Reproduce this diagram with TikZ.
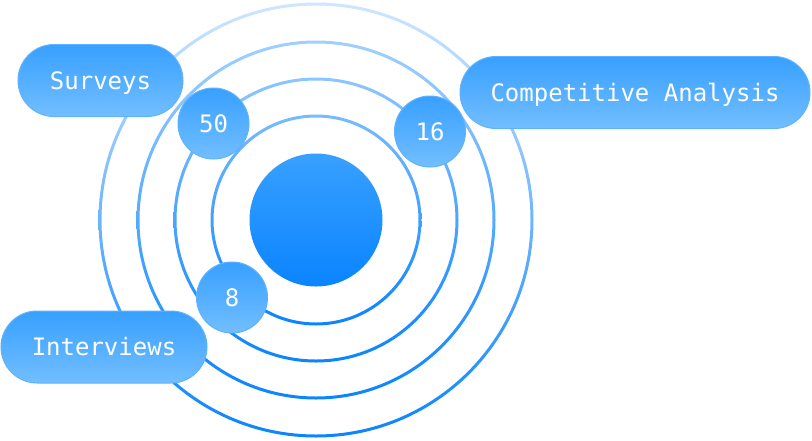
\documentclass[tikz,border=0pt]{standalone}
\usepackage{fontspec}
\setmonofont{DejaVu Sans Mono}
\begin{document}
\begin{tikzpicture}[x=1pt,y=-1pt]
\definecolor{D}{RGB}{10,132,255}
\definecolor{ptop}{RGB}{56,160,255}
\definecolor{pbot}{RGB}{114,190,255}
\definecolor{pedge}{RGB}{96,178,255}
\definecolor{rta}{HTML}{CFE6FF}\definecolor{rma}{HTML}{5EB0FF}
\definecolor{rtb}{HTML}{A0D0FF}\definecolor{rmb}{HTML}{4CAAFF}
\definecolor{rtc}{HTML}{8CC6FF}\definecolor{rmc}{HTML}{40A4FF}
\definecolor{rtd}{HTML}{78BCFF}\definecolor{rmd}{HTML}{38A0FF}
\tikzset{
  pillbox/.style={rectangle, rounded corners=36pt, minimum height=72pt, inner sep=0pt,
    text height=17.5pt, text depth=0pt,
    top color=ptop, bottom color=pbot, draw=pedge, line width=1pt,
    text=white, font=\ttfamily\fontsize{24}{26}\selectfont},
  numbox/.style={circle, minimum size=71pt, inner sep=0pt,
    text height=17.5pt, text depth=0pt,
    top color=ptop, bottom color=pbot, draw=pedge, line width=1pt,
    text=white, font=\ttfamily\fontsize{24}{26}\selectfont}
}
\useasboundingbox (0,0) rectangle (812,440);
\coordinate (c) at (316,220);
% rings
\foreach \ro/\ri/\ct/\cm in {217.5pt/214.5pt/rta/rma, 179.5pt/176.5pt/rtb/rmb, 142.5pt/139.5pt/rtc/rmc, 105.5pt/102.5pt/rtd/rmd} {
  \shade[even odd rule, top color=\ct, middle color=\cm, bottom color=D] (c) circle[radius=\ro] (c) circle[radius=\ri];
}
% central disc
\shade[top color=ptop, bottom color=D] (c) circle[radius=66.5pt];
% pills
\node[pillbox, minimum width=165pt] (surveys) at (100.5,80.5) {Surveys};
\node[pillbox, minimum width=350pt] (comp) at (635,92.5) {Competitive Analysis};
\node[pillbox, minimum width=206pt] (interviews) at (104,347) {Interviews};
% numbers
\node[numbox] (n50) at (213.5,123.5) {50};
\node[numbox] (n16) at (430,131.5) {16};
\node[numbox] (n8) at (232,297.5) {8};
\end{tikzpicture}
\end{document}
